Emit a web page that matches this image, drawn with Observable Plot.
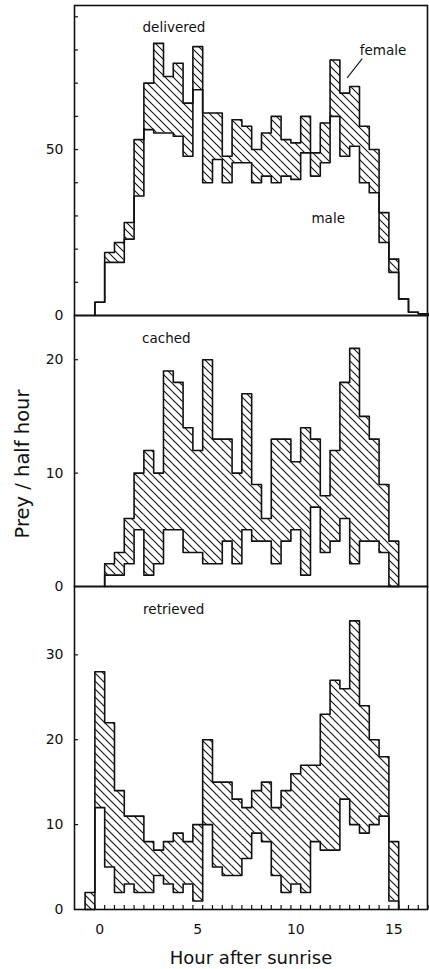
<!DOCTYPE html>
<html>
<head>
<meta charset="utf-8">
<script src="https://cdn.jsdelivr.net/npm/d3@7"></script>
<script src="https://cdn.jsdelivr.net/npm/@observablehq/plot@0.6"></script>
<style>
  html, body { margin: 0; padding: 0; background: #fff; }
  #chart { width: 429px; background: #fff; }
  #chart svg { display: block; overflow: visible; }
</style>
</head>
<body>
<div id="chart"></div>
<script>
// ---- data: prey per half hour, bins centred on the half hour ----
const binWidth = 0.5;

const deliveredStart = 0;
const deliveredMale  = [4,16,16,23,36,56,55,55,54,48,68,40,47,40,46,46,40,42,40,42,41,49,42,46,60,48,51,40,37,22,13,5,1,0.5];
const deliveredTotal = [4,19,22,28,53,70,82,72,76,64,81,61,61,48,59,57,50,55,60,53,52,60,49,58,77,67,69,57,50,31,17,5,1,0.5];

const cachedStart = 0.5;
const cachedMale  = [1,1,2,5,1,2,5,5,3,3,2,2,4,2,5,4,4,2,4,5,1,7,3,4,6,2,4,4,3,0];
const cachedTotal = [2,3,6,10,12,10,19,18,14,12,20,13,13,10,17,9,6,13,13,11,14,13,8,12,18,21,15,13,9,4];

const retrievedStart = -0.5;
const retrievedMale  = [0,12,5,2,3,2,2,4,3,2,3,1,10,5,4,4,6,9,8,4,2,3,2,8,7,7,13,10,9,10,11,1];
const retrievedTotal = [2,28,22,14,11,11,8,7,8,9,8,10,20,15,15,13,12,14,15,12,14,16,17,17,23,27,26,34,24,20,18,8];

// ---- axes ----
const xDomain = [-1.29, 16.72];
const xTickValues = [0, 5, 10, 15];
const xEdgeTicks = d3.range(-0.25, 16.8, 0.5);

const deliveredYDomain = [0, 93.4];
const deliveredYTicks = [0, 50];
const deliveredYMinor = [10, 20, 30, 40, 50, 60, 70, 80, 90];

const cachedYDomain = [0, 23.9];
const cachedYTicks = [0, 10, 20];
const cachedYMinor = [10, 20];

const retrievedYDomain = [0, 38.05];
const retrievedYTicks = [0, 10, 20, 30];
const retrievedYMinor = [10, 20, 30];

// ---- annotations (in data units) ----
const panelNames = ["delivered", "cached", "retrieved"];
const panelLabelHour = [2.18, 2.16, 2.21];
const panelLabelValue = [86.7, 21.9, 35.3];
const sexLabels = ["female", "male"];
const sexLabelHour = [13.26, 10.8];
const sexLabelValue = [79.8, 29.2];
const femaleLeader = [{x1: 13.39, y1: 77.4, x2: 12.62, y2: 71.6}];

const xTitle = "Hour after sunrise";
const yTitle = "Prey / half hour";

const ink = "#111";
const font = "DejaVu Sans, sans-serif";

function addHatch(svg, id) {
  const p = d3.select(svg).insert("defs", ":first-child")
    .append("pattern")
    .attr("id", id)
    .attr("patternUnits", "userSpaceOnUse")
    .attr("width", 8).attr("height", 8);
  p.append("path")
    .attr("d", "M-2,-2L10,10M-2,6L2,10M6,-2L10,2")
    .attr("stroke", ink).attr("stroke-width", 1.1).attr("fill", "none");
}

function panel({name, start, male, total, height, marginTop, marginBottom, yDomain, yTicks, yMinor, extra = [], xAxis = false}) {
  const hours = d3.range(male.length).map(i => start + i * binWidth);
  const rows = hours.map((h, i) => ({x1: h - binWidth / 2, x2: h + binWidth / 2, male: male[i], total: total[i]}));
  const steps = key => [
    {x: rows[0].x1, y: 0},
    ...rows.map(r => ({x: r.x1, y: r[key]})),
    {x: rows[rows.length - 1].x2, y: 0}
  ];
  const marks = [
    Plot.rect(rows, {x1: "x1", x2: "x2", y1: "male", y2: "total", fill: `url(#hatch-${name})`}),
    Plot.line(steps("total"), {x: "x", y: "y", curve: "step-after", stroke: ink, strokeWidth: 1.6}),
    Plot.line(steps("male"), {x: "x", y: "y", curve: "step-after", stroke: ink, strokeWidth: 1.6}),
    Plot.frame({stroke: ink, strokeWidth: 1.6}),
    Plot.axisY({ticks: yTicks, tickSize: 0, tickPadding: 11, fontSize: 14, label: null}),
    Plot.axisY({ticks: yMinor, tickSize: -4, fill: "none", label: null, strokeWidth: 1.2}),
    ...extra
  ];
  if (xAxis) {
    marks.push(
      Plot.axisX({ticks: xTickValues, tickSize: 0, tickPadding: 15, fontSize: 14, label: null}),
      Plot.axisX({ticks: xEdgeTicks, tickSize: -4, fill: "none", label: null, strokeWidth: 1.2}),
      Plot.text([xTitle], {text: d => d, frameAnchor: "bottom", dy: 49, fontSize: 18, lineAnchor: "middle", fill: ink})
    );
  }
  const svg = Plot.plot({
    width: 429, height, marginLeft: 74, marginRight: 2, marginTop, marginBottom,
    x: {domain: xDomain, label: null, ...(xAxis ? {} : {axis: null})},
    y: {domain: yDomain, label: null},
    style: {fontFamily: font, color: ink, background: "transparent", overflow: "visible"},
    marks
  });
  addHatch(svg, `hatch-${name}`);
  return svg;
}

function panelLabel(i) {
  return Plot.text([panelNames[i]], {
    text: d => d, x: () => panelLabelHour[i], y: () => panelLabelValue[i],
    textAnchor: "start", lineAnchor: "middle", fontSize: 13.5, fill: ink
  });
}

const chart = document.getElementById("chart");

chart.append(panel({
  name: "delivered", start: deliveredStart, male: deliveredMale, total: deliveredTotal,
  height: 315, marginTop: 5, marginBottom: 0,
  yDomain: deliveredYDomain, yTicks: deliveredYTicks, yMinor: deliveredYMinor,
  extra: [
    panelLabel(0),
    Plot.text(sexLabels, {
      text: d => d, x: (d, i) => sexLabelHour[i], y: (d, i) => sexLabelValue[i],
      textAnchor: "start", lineAnchor: "middle", fontSize: 13.5, fill: ink
    }),
    Plot.link(femaleLeader, {x1: "x1", y1: "y1", x2: "x2", y2: "y2", stroke: ink, strokeWidth: 1.1})
  ]
}));

chart.append(panel({
  name: "cached", start: cachedStart, male: cachedMale, total: cachedTotal,
  height: 271, marginTop: 0, marginBottom: 0,
  yDomain: cachedYDomain, yTicks: cachedYTicks, yMinor: cachedYMinor,
  extra: [
    panelLabel(1),
    Plot.text([yTitle], {
      text: d => d, frameAnchor: "left", dx: -52, dy: 13, rotate: -90,
      textAnchor: "middle", lineAnchor: "middle", fontSize: 19.5, fill: ink
    })
  ]
}));

chart.append(panel({
  name: "retrieved", start: retrievedStart, male: retrievedMale, total: retrievedTotal,
  height: 383, marginTop: 0, marginBottom: 60,
  yDomain: retrievedYDomain, yTicks: retrievedYTicks, yMinor: retrievedYMinor,
  extra: [panelLabel(2)],
  xAxis: true
}));
</script>
</body>
</html>
